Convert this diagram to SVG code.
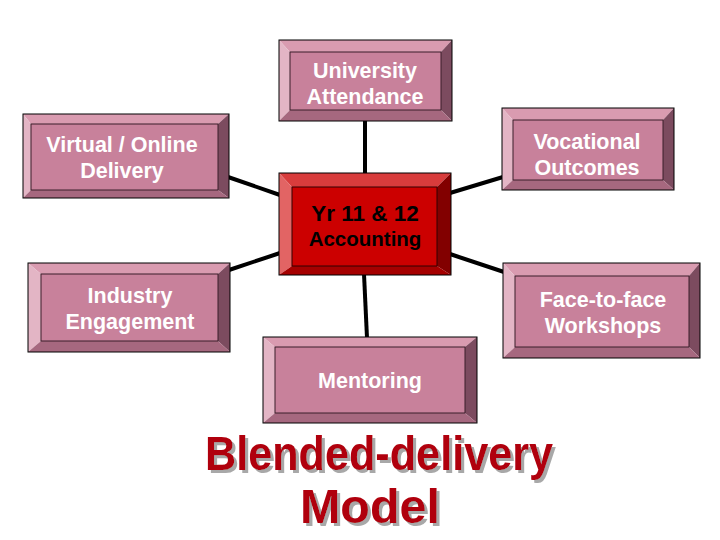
<svg xmlns="http://www.w3.org/2000/svg" width="720" height="540" viewBox="0 0 720 540">
<defs>
<filter id="sh" x="-5%" y="-10%" width="115%" height="130%">
<feOffset in="SourceAlpha" dx="3" dy="3" result="off"/>
<feFlood flood-color="#a8a8a8"/>
<feComposite in2="off" operator="in" result="shadow"/>
<feMerge><feMergeNode in="shadow"/><feMergeNode in="SourceGraphic"/></feMerge>
</filter>
</defs>
<style>
.c{stroke:#000;stroke-width:4;fill:none;stroke-linecap:butt}
.o{stroke:#000;stroke-width:1}
.pt{fill:#d99bb0}.pl{fill:#e3b5c5}.pr{fill:#7c4b5f}.pb{fill:#a6687f}.pf{fill:#c8819b;stroke:#3a1f2a;stroke-width:1}
.rt{fill:#d83c3c}.rl{fill:#e26464}.rr{fill:#820000}.rb{fill:#a50000}.rf{fill:#cc0000;stroke:#300;stroke-width:1}
.w{fill:#fff;font-family:"Liberation Sans",Arial,sans-serif;font-weight:bold;font-size:21.5px;text-anchor:middle}
.k{fill:#000;font-family:"Liberation Sans",Arial,sans-serif;font-weight:bold;text-anchor:middle}
.t{font-family:"Liberation Sans",Arial,sans-serif;font-weight:bold;font-size:48px;text-anchor:middle;fill:#b0000d}
</style>
<rect width="720" height="540" fill="#fff"/>
<g id="connectors">
<line class="c" x1="365" y1="121" x2="365" y2="174"/>
<line class="c" x1="228" y1="177" x2="280" y2="195"/>
<line class="c" x1="229" y1="270" x2="280" y2="253"/>
<line class="c" x1="450" y1="193" x2="503" y2="177"/>
<line class="c" x1="450" y1="254" x2="504" y2="272"/>
<line class="c" x1="364" y1="274" x2="367" y2="338"/>
</g>
<g id="university">
<polygon class="pt" points="279,40 452,40 441,52 290,52"/>
<polygon class="pl" points="279,40 290,52 290,110 279,121"/>
<polygon class="pr" points="452,40 452,121 441,110 441,52"/>
<polygon class="pb" points="279,121 290,110 441,110 452,121"/>
<rect class="pf" x="290" y="52" width="151" height="58"/>
<rect class="o" x="279" y="40" width="173" height="81" fill="none"/>
<text class="w" x="365" y="78">University</text>
<text class="w" x="365" y="104">Attendance</text>
</g>
<g id="virtual">
<polygon class="pt" points="23,114 229,114 218,124 31,124"/>
<polygon class="pl" points="23,114 31,124 31,190 23,198"/>
<polygon class="pr" points="229,114 229,198 218,190 218,124"/>
<polygon class="pb" points="23,198 31,190 218,190 229,198"/>
<rect class="pf" x="31" y="124" width="187" height="66"/>
<rect class="o" x="23" y="114" width="206" height="84" fill="none"/>
<text class="w" x="122" y="152">Virtual / Online</text>
<text class="w" x="122" y="178">Delivery</text>
</g>
<g id="vocational">
<polygon class="pt" points="502,108 674,108 663,120 513,120"/>
<polygon class="pl" points="502,108 513,120 513,180 502,190"/>
<polygon class="pr" points="674,108 674,190 663,180 663,120"/>
<polygon class="pb" points="502,190 513,180 663,180 674,190"/>
<rect class="pf" x="513" y="120" width="150" height="60"/>
<rect class="o" x="502" y="108" width="172" height="82" fill="none"/>
<text class="w" x="587" y="149">Vocational</text>
<text class="w" x="587" y="175">Outcomes</text>
</g>
<g id="industry">
<polygon class="pt" points="28,263 230,263 218,274 41,274"/>
<polygon class="pl" points="28,263 41,274 41,341 28,352"/>
<polygon class="pr" points="230,263 230,352 218,341 218,274"/>
<polygon class="pb" points="28,352 41,341 218,341 230,352"/>
<rect class="pf" x="41" y="274" width="177" height="67"/>
<rect class="o" x="28" y="263" width="202" height="89" fill="none"/>
<text class="w" x="130" y="303">Industry</text>
<text class="w" x="130" y="329">Engagement</text>
</g>
<g id="facetoface">
<polygon class="pt" points="503,263 700,263 689,276 515,276"/>
<polygon class="pl" points="503,263 515,276 515,347 503,358"/>
<polygon class="pr" points="700,263 700,358 689,347 689,276"/>
<polygon class="pb" points="503,358 515,347 689,347 700,358"/>
<rect class="pf" x="515" y="276" width="174" height="71"/>
<rect class="o" x="503" y="263" width="197" height="95" fill="none"/>
<text class="w" x="603" y="307">Face-to-face</text>
<text class="w" x="603" y="333">Workshops</text>
</g>
<g id="mentoring">
<polygon class="pt" points="263,337 477,337 465,347 275,347"/>
<polygon class="pl" points="263,337 275,347 275,413 263,423"/>
<polygon class="pr" points="477,337 477,423 465,413 465,347"/>
<polygon class="pb" points="263,423 275,413 465,413 477,423"/>
<rect class="pf" x="275" y="347" width="190" height="66"/>
<rect class="o" x="263" y="337" width="214" height="86" fill="none"/>
<text class="w" x="370" y="388">Mentoring</text>
</g>
<g id="center">
<polygon class="rt" points="279,173 451,173 437,187 292,187"/>
<polygon class="rl" points="279,173 292,187 292,266 279,275"/>
<polygon class="rr" points="451,173 451,275 437,266 437,187"/>
<polygon class="rb" points="279,275 292,266 437,266 451,275"/>
<rect class="rf" x="292" y="187" width="145" height="79"/>
<rect class="o" x="279" y="173" width="172" height="102" fill="none"/>
<text class="k" x="365" y="221" font-size="22.5px">Yr 11 &amp; 12</text>
<text class="k" x="365" y="246" font-size="20.5px">Accounting</text>
</g>
<g id="title" filter="url(#sh)">
<text class="t" x="379" y="470" textLength="348" lengthAdjust="spacingAndGlyphs">Blended-delivery</text>
<text class="t" x="370" y="523" textLength="140" lengthAdjust="spacingAndGlyphs">Model</text>
</g>
</svg>
